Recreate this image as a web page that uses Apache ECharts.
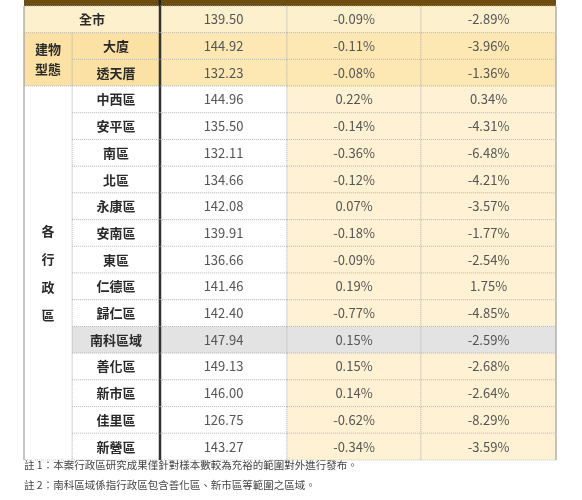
<!DOCTYPE html>
<html><head><meta charset="utf-8">
<script src="https://cdn.jsdelivr.net/npm/echarts@6/dist/echarts.min.js"></script>
<style>html,body{margin:0;padding:0;background:#fff}#c{width:582px;height:500px}</style>
</head><body><div id="c"></div>
<script>
const rowNames = ['全市','大廈','透天厝','中西區','安平區','南區','北區','永康區','安南區','東區','仁德區','歸仁區','南科區域','善化區','新市區','佳里區','新營區'];
const indexValues = [139.50,144.92,132.23,144.96,135.50,132.11,134.66,142.08,139.91,136.66,141.46,142.40,147.94,149.13,146.00,126.75,143.27];
const monthChange = [-0.09,-0.11,-0.08,0.22,-0.14,-0.36,-0.12,0.07,-0.18,-0.09,0.19,-0.77,0.15,0.15,0.14,-0.62,-0.34];
const yearChange = [-2.89,-3.96,-1.36,0.34,-4.31,-6.48,-4.21,-3.57,-1.77,-2.54,1.75,-4.85,-2.59,-2.68,-2.64,-8.29,-3.59];
const groupLabels = ['建物\n型態','各\n\n行\n\n政\n\n區'];
const notes = ['註 1：本案行政區研究成果僅針對樣本數較為充裕的範圍對外進行發布。','註 2：南科區域係指行政區包含善化區、新市區等範圍之區域。'];

const colEdges = [0,48,136,263,397,532];
const cells = [];
rowNames.forEach((n,i)=>{
  const r=i;
  let kind = i===0?'all':(i<3?'bld':(n==='南科區域'?'grey':'dist'));
  if(i===0) cells.push([0,r,2,1,n,kind]); else cells.push([1,r,1,1,n,kind]);
  cells.push([2,r,1,1,indexValues[i].toFixed(2),kind+'N']);
  cells.push([3,r,1,1,monthChange[i].toFixed(2)+'%',kind+'P']);
  cells.push([4,r,1,1,yearChange[i].toFixed(2)+'%',kind+'P']);
});
cells.push([0,1,1,2,groupLabels[0],'bld']);
cells.push([0,3,1,14,groupLabels[1],'dist']);

function fillOf(k){
  if(k.startsWith('all')) return '#fdf0cd';
  if(k==='bld') return '#fbe2a4';
  if(k.startsWith('bld')) return '#fde8b3';
  if(k.startsWith('grey')) return '#e3e3e3';
  if(k==='distP') return '#fff2d4';
  return '#ffffff';
}

const chart = echarts.init(document.getElementById('c'));
chart.setOption({
  animation:false,
  grid:{left:24,right:26,top:6,bottom:40},
  xAxis:{type:'value',min:0,max:532,show:false},
  yAxis:{type:'category',data:rowNames,inverse:true,show:false},
  series:[{
    type:'custom',
    data:cells,
    encode:{x:0,y:1},
    renderItem:function(params,api){
      const c=api.value(0), r=api.value(1), cs=api.value(2), rs=api.value(3);
      const text=api.value(4), kind=api.value(5);
      const bh=api.size([0,1])[1];
      const x0=api.coord([colEdges[c],r])[0], x1=api.coord([colEdges[c+cs],r])[0];
      const yc=api.coord([0,r])[1];
      const y0=yc-bh/2, h=bh*rs;
      const isName = !/N$|P$/.test(kind);
      const children=[{
        type:'rect',shape:{x:x0,y:y0,width:x1-x0,height:h},
        style:{fill:fillOf(kind),stroke:'#b5b5b5',lineWidth:0.8,lineDash:[1,1]}
      },{
        type:'text',x:(x0+x1)/2,y:y0+h/2,
        style:{text:text,align:'center',verticalAlign:'middle',
          fill:isName?'#2a2a2a':'#555',
          font:(isName?'bold 13px ':'13px ')+'"Noto Sans CJK TC"',lineHeight:isName&&c===0&&rs>2?14:20}
      }];
      if(c===2) children.push({type:'line',shape:{x1:x0,y1:y0,x2:x0,y2:y0+h},style:{stroke:'#333',lineWidth:2.5}});
      if(c===0) children.push({type:'line',shape:{x1:x0,y1:y0,x2:x0,y2:y0+h},style:{stroke:'#999',lineWidth:1}});
      if(c+cs===5) children.push({type:'line',shape:{x1:x1,y1:y0,x2:x1,y2:y0+h},style:{stroke:'#999',lineWidth:1}});
      return {type:'group',children:children};
    }
  }],
  graphic:[{type:'rect',left:24,top:0,shape:{width:532,height:6},style:{fill:'#6e4e10'}},
           {type:'rect',left:158.5,top:0,shape:{width:2.5,height:6},style:{fill:'#222'}}]
    .concat(notes.map((t,i)=>({type:'text',left:24,top:460+i*20,style:{text:t,fill:'#444',font:'10.5px "Noto Sans CJK TC"'}})))
});
</script></body></html>
